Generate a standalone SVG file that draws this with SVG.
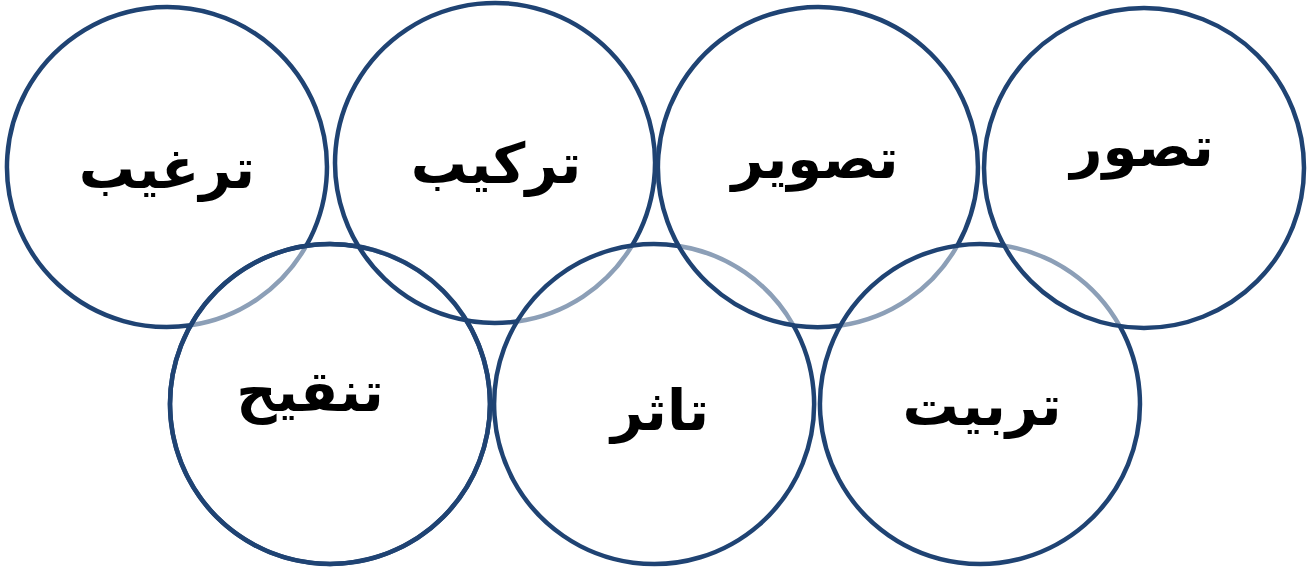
<svg xmlns="http://www.w3.org/2000/svg" width="1310" height="571" viewBox="0 0 1310 571">
<style>
.d{fill:none;stroke:#1F4373;stroke-width:4.5}
.l{fill:none;stroke:#8C9FB7;stroke-width:4.5}
.t{font-family:"DejaVu Sans",sans-serif;font-weight:bold;font-size:56px;fill:#000;text-anchor:middle}
</style>
<rect width="1310" height="571" fill="#fff"/>
<g id="connectors">
<path class="l" d="M190.7,325.3 A160,160 0 0 0 306.3,245.7"/>
<path class="l" d="M358.5,246.5 A160,160 0 0 1 466.5,320.5"/>
<path class="l" d="M517,321.4 A160,160 0 0 0 632,245.6"/>
<path class="l" d="M678.8,246 A160,160 0 0 1 793.2,325"/>
<path class="l" d="M840.6,325.5 A160,160 0 0 0 957.4,245.5"/>
<path class="l" d="M1004.2,245.8 A160,160 0 0 1 1119.8,326.2"/>
</g>
<g id="n1"><path class="d" d="M306.3,245.7 A160,160 0 1 0 190.7,325.3"/><text class="t" x="167" y="188">ترغیب</text></g>
<g id="n2"><path class="d" d="M632,245.6 A160,160 0 1 0 517,321.4"/><text class="t" x="496" y="183">ترکیب</text></g>
<g id="n3"><path class="d" d="M957.4,245.5 A160,160 0 1 0 840.6,325.5"/><text class="t" x="815" y="178">تصویر</text></g>
<g id="n4"><circle class="d" cx="1144" cy="168" r="160"/><text class="t" x="1142" y="166">تصور</text></g>
<g id="n5"><circle class="d" cx="330" cy="404" r="160"/><text class="t" x="310" y="411">تنقیح</text></g>
<g id="n6"><path class="d" d="M793.2,325 A160,160 0 1 1 678.8,246"/><text class="t" x="660" y="430">تاثر</text></g>
<g id="n7"><path class="d" d="M1119.8,326.2 A160,160 0 1 1 1004.2,245.8"/><text class="t" x="982" y="425">تربیت</text></g>
<path class="d" d="M466.5,320.5 A160,160 0 1 1 358.5,246.5"/>
</svg>
